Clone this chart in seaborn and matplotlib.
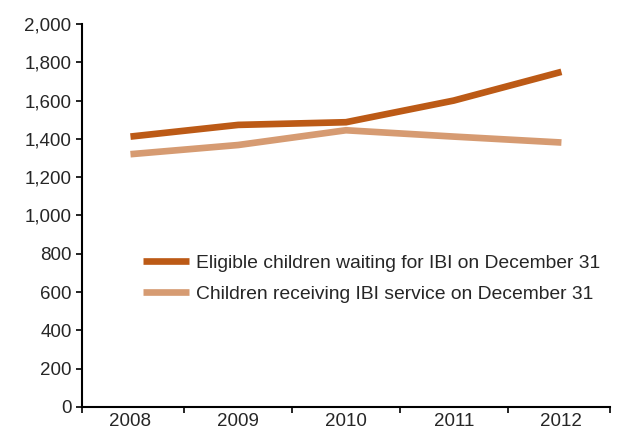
import matplotlib

matplotlib.use("Agg")
import matplotlib.pyplot as plt
import pandas as pd
import seaborn as sns
from matplotlib.ticker import FuncFormatter, FixedLocator

years = ["2008", "2009", "2010", "2011", "2012"]
waiting = [1412, 1473, 1487, 1600, 1750]
receiving = [1320, 1368, 1445, 1412, 1381]
series_names = ["Eligible children waiting for IBI on December 31",
                "Children receiving IBI service on December 31"]
palette = {series_names[0]: "#BC5A16", series_names[1]: "#D69B72"}

sns.set_theme(style="white")
plt.rcParams["font.family"] = ["Liberation Sans Narrow", "Liberation Sans", "DejaVu Sans"]

df = pd.concat([
    pd.DataFrame({"pos": range(len(years)), "value": waiting, "series": series_names[0]}),
    pd.DataFrame({"pos": range(len(years)), "value": receiving, "series": series_names[1]}),
], ignore_index=True)

fig = plt.figure(figsize=(6.23, 4.32), dpi=100)
ax = fig.add_axes([0.1316, 0.0579, 0.8474, 0.8866])
sns.lineplot(data=df, x="pos", y="value", hue="series", palette=palette,
             linewidth=4.8, ax=ax, solid_capstyle="butt")

ax.set_xlim(-0.45, 4.45)
ax.set_ylim(0, 2000)
ax.set_yticks(range(0, 2001, 200))
ax.yaxis.set_major_formatter(FuncFormatter(lambda v, _: f"{int(v):,}"))
ax.set_xticks(range(len(years)))
ax.set_xticklabels(years)
ax.xaxis.set_minor_locator(FixedLocator([-0.45, 0.5, 1.5, 2.5, 3.5, 4.45]))
ax.tick_params(axis="x", which="major", length=0, labelsize=13.5, pad=4)
ax.tick_params(axis="x", which="minor", length=4, width=1.2, direction="out", color="black", bottom=True)
ax.tick_params(axis="y", length=4, width=1.2, direction="out", color="black", labelsize=13.5, left=True)
ax.set_xlabel("")
ax.set_ylabel("")
for side in ("top", "right"):
    ax.spines[side].set_visible(False)
for side in ("left", "bottom"):
    ax.spines[side].set_color("black")
    ax.spines[side].set_linewidth(1.5)

ax.legend(loc="center left", bbox_to_anchor=(0.1155, 0.335), frameon=False,
          borderaxespad=0, borderpad=0,
          fontsize=13.9, handlelength=2.4, labelspacing=0.7, handletextpad=0.36)

fig.savefig("out.png", dpi=100)
